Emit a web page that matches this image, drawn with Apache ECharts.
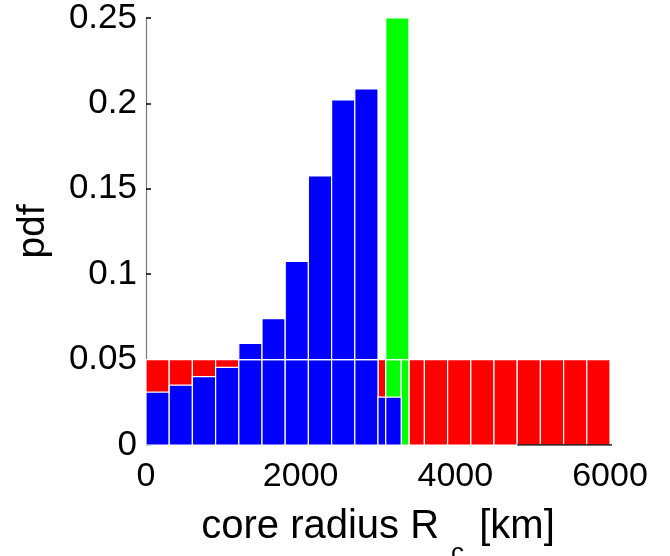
<!DOCTYPE html>
<html>
<head>
<meta charset="utf-8">
<script src="https://cdn.jsdelivr.net/npm/echarts@6/dist/echarts.min.js"></script>
<style>
  html, body { margin: 0; padding: 0; background: #fff; }
  #chart { width: 670px; height: 556px; }
</style>
</head>
<body>
<div id="chart"></div>
<script>
// Prior pdf of the core radius (uniform), bin edges in km
const priorEdges = [0, 300, 600, 900, 1200, 1500, 1800, 2100, 2400, 2700, 3000, 3100, 3300, 3400,
                    3600, 3900, 4200, 4500, 4800, 5100, 5400, 5700, 6000];
const priorValues = [0.05, 0.05, 0.05, 0.05, 0.05, 0.05, 0.05, 0.05, 0.05, 0.05, 0.05,
                     0.05, 0.05, 0.05, 0.05, 0.05, 0.05, 0.05, 0.05, 0.05, 0.05, 0.05];

// Posterior pdf (blue)
const postEdges = [0, 300, 600, 900, 1200, 1500, 1800, 2100, 2400, 2700, 3000, 3100, 3300];
const postValues = [0.031, 0.035, 0.040, 0.0455, 0.0595, 0.074, 0.1075, 0.1575, 0.202, 0.2085, 0.028, 0.028];

// Reference value bin (green)
const trueEdges = [3100, 3400];
const trueValues = [0.25];

// Baseline segment under the upper range
const baseSeg = [[4800, 0], [6040, 0]];

const xTicks = { min: 0, max: 6000, interval: 2000 };
const yTicks = { min: 0, max: 0.25, interval: 0.05 };

const priorLevel = priorValues[0];
const font = 'Liberation Sans, Arial, Helvetica, sans-serif';

// Split each bin into rectangles: the part below the prior level is cut at prior bin edges,
// the part above is one piece.
function pieces(edges, values) {
  const out = [];
  for (let i = 0; i < values.length; i++) {
    const x0 = edges[i], x1 = edges[i + 1], v = values[i];
    const low = Math.min(v, priorLevel);
    const cuts = [x0].concat(priorEdges.filter(e => e > x0 && e < x1)).concat([x1]);
    for (let k = 0; k < cuts.length - 1; k++) out.push([cuts[k], cuts[k + 1], 0, low]);
    if (v > priorLevel) out.push([x0, x1, priorLevel, v]);
  }
  return out;
}

function renderRect(params, api) {
  const p0 = api.coord([api.value(0), api.value(2)]);
  const p1 = api.coord([api.value(1), api.value(3)]);
  const shape = echarts.graphic.clipRectByRect(
    { x: p0[0], y: p1[1], width: p1[0] - p0[0], height: p0[1] - p1[1] },
    { x: params.coordSys.x, y: params.coordSys.y - 2, width: params.coordSys.width, height: params.coordSys.height + 2 }
  );
  return shape && {
    type: 'rect',
    shape: shape,
    style: { fill: api.visual('color'), stroke: '#ffffff', lineWidth: 1.2 }
  };
}

function histSeries(name, data, color) {
  return {
    name: name,
    type: 'custom',
    renderItem: renderRect,
    data: data,
    encode: { x: [0, 1], y: [2, 3] },
    itemStyle: { color: color },
    silent: true,
    animation: false
  };
}

const chart = echarts.init(document.getElementById('chart'), null, { renderer: 'canvas' });
chart.setOption({
  backgroundColor: '#ffffff',
  animation: false,
  grid: { left: 146, right: 60, top: 18, bottom: 111, containLabel: false, outerBoundsMode: 'none' },
  xAxis: {
    type: 'value',
    min: xTicks.min, max: xTicks.max, interval: xTicks.interval,
    axisLine: { show: false },
    axisTick: { show: false },
    splitLine: { show: false },
    axisLabel: { color: '#000', fontFamily: font, fontSize: 34, margin: 15, formatter: v => String(v) },
    name: '{n|core radius R}{sub|c}{n| [km]}',
    nameLocation: 'middle',
    nameGap: 62,
    nameTextStyle: {
      color: '#000', fontFamily: font, fontSize: 40,
      rich: {
        n: { fontFamily: font, fontSize: 40, lineHeight: 40, color: '#000', verticalAlign: 'top' },
        sub: { fontFamily: font, fontSize: 26, lineHeight: 26, color: '#000', verticalAlign: 'top', padding: [34, 4, 0, 12] }
      }
    }
  },
  yAxis: {
    type: 'value',
    min: yTicks.min, max: yTicks.max, interval: yTicks.interval,
    axisLine: { show: true, lineStyle: { color: '#7a7a7a', width: 1.2 } },
    axisTick: { show: true, inside: true, length: 5, lineStyle: { color: '#000', width: 1.5 } },
    splitLine: { show: false },
    axisLabel: { color: '#000', fontFamily: font, fontSize: 35, margin: 9 },
    name: 'pdf',
    nameLocation: 'middle',
    nameRotate: 90,
    nameGap: 93,
    nameTextStyle: { color: '#000', fontFamily: font, fontSize: 39 }
  },
  series: [
    histSeries('prior', pieces(priorEdges, priorValues), '#ff0000'),
    histSeries('true', pieces(trueEdges, trueValues), '#00ff00'),
    histSeries('posterior', pieces(postEdges, postValues), '#0000ff'),
    {
      type: 'line',
      data: baseSeg,
      symbol: 'none',
      lineStyle: { color: '#000', width: 1.5 },
      silent: true,
      animation: false
    }
  ]
});
</script>
</body>
</html>
